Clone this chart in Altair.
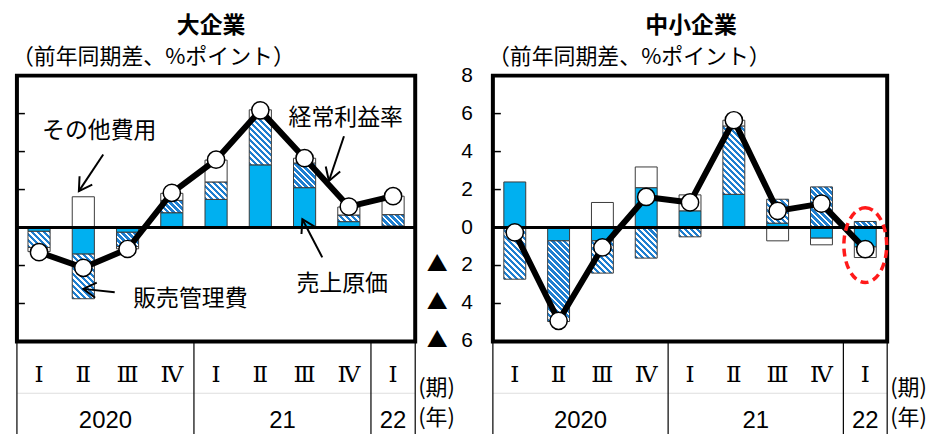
import math
import altair as alt
import pandas as pd

# ---- data -------------------------------------------------------------
quarters = ["Ⅰ", "Ⅱ", "Ⅲ", "Ⅳ", "Ⅰ", "Ⅱ", "Ⅲ", "Ⅳ", "Ⅰ"]
years = ["2020", "21", "22"]
year_first = [0, 4, 8]   # first quarter index of each year
year_last = [3, 7, 8]    # last quarter index of each year
y_ticks = [-6, -4, -2, 0, 2, 4, 6, 8]
y_tick_labels = ["▲ 6", "▲ 4", "▲ 2", "0", "2", "4", "6", "8"]

series_names = ["売上原価", "販売管理費", "その他費用", "経常利益率"]

# 大企業 (difference from the same period of the previous year, % points)
large_cogs = [-0.2, -1.4, -0.25, 0.78, 1.48, 3.3, 2.1, 0.31, 0.08]
large_sga = [-0.85, -2.35, -0.75, 0.65, 0.92, 2.43, 1.3, 0.35, 0.6]
large_other = [-0.22, 1.62, -0.12, 0.37, 1.15, 0.47, 0.25, 0.42, 0.97]
large_margin = [-1.3, -2.12, -1.13, 1.83, 3.57, 6.17, 3.65, 1.1, 1.65]

# 中小企業
small_cogs = [2.4, -0.7, -0.7, 2.1, 0.88, 1.75, 0.23, -0.56, -1.02]
small_sga = [-2.72, -4.25, -1.7, -1.61, -0.49, 3.6, 1.26, 2.14, 0.32]
small_other = [0.0, 0.0, 1.32, 1.09, 0.84, 0.3, -0.7, -0.35, -0.56]
small_margin = [-0.26, -4.91, -1.05, 1.61, 1.32, 5.65, 0.88, 1.26, -1.14]

# annotation labels and arrows (left panel, data coordinates)
ann_text = ["その他費用", "経常利益率", "売上原価", "販売管理費"]
ann_x = [1.36, 6.93, 6.85, 3.42]
ann_y = [5.07, 5.75, -2.95, -3.74]
arrow_x0 = [1.45, 6.89, 6.40, 1.71]
arrow_y0 = [3.85, 4.81, -1.57, -3.41]
arrow_x1 = [0.90, 6.55, 5.95, 1.00]
arrow_y1 = [1.92, 2.45, 0.44, -3.23]

# ---- style ------------------------------------------------------------
H = 267
BLUE = "#00b0f0"
STRIPE = "#1f7fd0"
OUTLINE = "#3a3a3a"
JP = "Noto Sans CJK JP"
NUM = "Liberation Sans, Noto Sans CJK JP"
ROMAN = "DejaVu Serif, Noto Sans CJK JP"
N = len(quarters)
HALF = 0.25  # half bar width in category units

ys = alt.Scale(domain=[-6, 8], nice=False, zero=False)
xs = alt.Scale(domain=[-0.5, N - 0.5], nice=False, zero=False)


def stack_segments(cogs, sga, other):
    rows = []
    for i in range(N):
        pos, neg = 0.0, 0.0
        for name, vals in zip(series_names[:3], (cogs, sga, other)):
            v = vals[i]
            if v == 0:
                continue
            if v > 0:
                lo, hi = pos, pos + v
                pos = hi
            else:
                lo, hi = neg + v, neg
                neg = lo
            rows.append(dict(i=i, series=name, v=v, lo=lo, hi=hi,
                             left=i - HALF, right=i + HALF))
    return pd.DataFrame(rows)


def hatch(w, h, period=6.0, ink=0.55):
    """Diagonal stripes of constant pixel spacing for a w x h box."""
    L = w + h
    a = L / (w * w + h * h)
    stops = []
    k = 0
    while k * period < L:
        s0 = k * period / L
        s1 = min((k * period + period * ink) / L, 1.0)
        s2 = min((k + 1) * period / L, 1.0)
        stops += [(s0, STRIPE), (s1, STRIPE), (s1, "white"), (s2, "white")]
        k += 1
    return alt.LinearGradient(
        gradient="linear",
        stops=[alt.GradientStop(color=c, offset=round(o, 5)) for o, c in stops],
        x1=0, y1=1, x2=round(a * w, 5), y2=round(1 - a * h, 5),
    )


def one_row():
    return pd.DataFrame({"k": [0]})


def text_at(txt, x, y, **kw):
    return alt.Chart(one_row()).mark_text(text=txt, color="black", **kw).encode(
        x=alt.value(x), y=alt.value(y))


def panel(W, title, title_x, title_y, sub_y, cogs, sga, other, margin,
          show_labels, extra_layers):
    seg = stack_segments(cogs, sga, other)
    bar_w = 2 * HALF * W / N
    px_per_unit = H / 14.0

    enc_bar = dict(
        x=alt.X("left:Q", scale=xs, axis=None), x2="right:Q",
        y=alt.Y("lo:Q", scale=ys, axis=None), y2="hi:Q",
    )
    layers = []

    # faint divider between quarter row and year row
    layers.append(alt.Chart(one_row()).mark_rule(color="#dedede", strokeWidth=1).encode(
        x=alt.value(0), x2=alt.value(W), y=alt.value(H + 52)))

    # vertical separators under the plot at year boundaries
    bounds = pd.DataFrame({"b": [-0.5] + [e + 0.5 for e in year_last]})
    layers.append(alt.Chart(bounds).mark_rule(color="black", strokeWidth=1.2).encode(
        x=alt.X("b:Q", scale=xs, axis=None), y=alt.value(H), y2=alt.value(H + 94)))

    # stacked cost components
    layers.append(alt.Chart(seg[seg.series == series_names[0]]).mark_bar(
        fill=BLUE, stroke=OUTLINE, strokeWidth=1).encode(**enc_bar))
    for _, r in seg[seg.series == series_names[1]].iterrows():
        grad = hatch(bar_w, abs(r.v) * px_per_unit)
        layers.append(alt.Chart(pd.DataFrame([r.to_dict()])).mark_bar(
            fill=grad, stroke=OUTLINE, strokeWidth=1).encode(**enc_bar))
    layers.append(alt.Chart(seg[seg.series == series_names[2]]).mark_bar(
        fill="white", stroke=OUTLINE, strokeWidth=1).encode(**enc_bar))

    # zero line
    layers.append(alt.Chart(pd.DataFrame({"z": [0]})).mark_rule(
        color="black", strokeWidth=3).encode(
        x=alt.value(0), x2=alt.value(W), y=alt.Y("z:Q", scale=ys, axis=None)))

    # inner ticks
    tdf = pd.DataFrame({
        "t": y_ticks,
        "num": [s.split()[-1] for s in y_tick_labels],
        "mark": [s.split()[0] if len(s.split()) > 1 else "" for s in y_tick_labels],
    })
    layers.append(alt.Chart(tdf).mark_rule(color="black", strokeWidth=1.5).encode(
        y=alt.Y("t:Q", scale=ys, axis=None), x=alt.value(0), x2=alt.value(8)))
    if show_labels:
        layers.append(alt.Chart(tdf).mark_text(
            font="Liberation Sans", fontSize=21, color="black", align="right",
            baseline="middle").encode(
            y=alt.Y("t:Q", scale=ys, axis=None), x=alt.value(-20), text="num:N"))
        layers.append(alt.Chart(tdf).mark_text(
            font=JP, fontSize=21, color="black", align="center",
            baseline="middle").encode(
            y=alt.Y("t:Q", scale=ys, axis=None), x=alt.value(-56), text="mark:N"))

    # operating profit margin
    mdf = pd.DataFrame({"i": list(range(N)), "m": margin})
    layers.append(alt.Chart(mdf).mark_line(color="black", strokeWidth=6, strokeJoin="round").encode(
        x=alt.X("i:Q", scale=xs, axis=None), y=alt.Y("m:Q", scale=ys, axis=None)))
    layers.append(alt.Chart(mdf).mark_point(
        filled=True, fill="white", stroke="black", strokeWidth=1.5, size=300, opacity=1).encode(
        x=alt.X("i:Q", scale=xs, axis=None), y=alt.Y("m:Q", scale=ys, axis=None)))

    # category labels below the plot
    qdf = pd.DataFrame({"i": list(range(N)), "q": quarters})
    layers.append(alt.Chart(qdf).mark_text(font=ROMAN, fontSize=23, color="black",
                                           baseline="middle").encode(
        x=alt.X("i:Q", scale=xs, axis=None), y=alt.value(H + 34), text="q:N"))
    ydf = pd.DataFrame({"c": [(a + b) / 2 for a, b in zip(year_first, year_last)], "y": years})
    layers.append(alt.Chart(ydf).mark_text(font=NUM, fontSize=24, color="black",
                                           baseline="middle").encode(
        x=alt.X("c:Q", scale=xs, axis=None), y=alt.value(H + 80), text="y:N"))

    # unit labels at the right end of the table
    layers.append(text_at("(期)", W + 3, H + 47, font=JP, fontSize=22,
                          align="left", baseline="middle"))
    layers.append(text_at("(年)", W + 3, H + 77, font=JP, fontSize=22,
                          align="left", baseline="middle"))

    # titles
    layers.append(text_at(title, title_x, title_y, font=JP, fontSize=23,
                          fontWeight="bold", align="center", baseline="middle"))
    layers.append(text_at("（前年同期差、%ポイント）", -5, sub_y, font=JP, fontSize=22,
                          align="left", baseline="middle"))

    layers += extra_layers(W)
    return alt.layer(*layers).properties(width=W, height=H)


def large_extras(W):
    out = []
    # overall canvas extent
    out.append(alt.Chart(one_row()).mark_rect(opacity=0).encode(
        x=alt.value(-15), x2=alt.value(914), y=alt.value(-73), y2=alt.value(361)))
    ux = W / N
    uy = H / 14.0
    angles = []
    for x0, y0, x1, y1 in zip(arrow_x0, arrow_y0, arrow_x1, arrow_y1):
        dx = (x1 - x0) * ux
        dy = -(y1 - y0) * uy
        angles.append(round(math.degrees(math.atan2(dx, -dy)) % 360, 2))
    adf = pd.DataFrame({"x0": arrow_x0, "y0": arrow_y0, "x1": arrow_x1,
                        "y1": arrow_y1, "ang": angles})
    out.append(alt.Chart(adf).mark_rule(color="black", strokeWidth=2).encode(
        x=alt.X("x0:Q", scale=xs, axis=None), x2="x1:Q",
        y=alt.Y("y0:Q", scale=ys, axis=None), y2="y1:Q"))
    out.append(alt.Chart(adf).mark_point(
        shape="M -0.6 1 L 0 0 L 0.6 1", filled=False, stroke="black",
        strokeWidth=2, size=650, opacity=1).encode(
        x=alt.X("x1:Q", scale=xs, axis=None), y=alt.Y("y1:Q", scale=ys, axis=None),
        angle=alt.Angle("ang:Q", scale=None)))
    tdf = pd.DataFrame({"t": ann_text, "x": ann_x, "y": ann_y})
    out.append(alt.Chart(tdf).mark_text(font=JP, fontSize=23, color="black",
                                        baseline="middle").encode(
        x=alt.X("x:Q", scale=xs, axis=None), y=alt.Y("y:Q", scale=ys, axis=None), text="t:N"))
    return out


def small_extras(W):
    k = 0.5523
    a = 0.573
    ellipse = (f"M 0 -1 C {k*a:.3f} -1 {a} {-k} {a} 0 C {a} {k} {k*a:.3f} 1 0 1 "
               f"C {-k*a:.3f} 1 {-a} {k} {-a} 0 C {-a} {-k} {-k*a:.3f} -1 0 -1 Z")
    edf = pd.DataFrame({"i": [N - 1], "m": [small_margin[-1]]})
    return [alt.Chart(edf).mark_point(
        shape=ellipse, filled=False, stroke="#ff1a1a", strokeWidth=3.5,
        strokeDash=[8, 5], size=5625, opacity=1, yOffset=-4).encode(
        x=alt.X("i:Q", scale=xs, axis=None), y=alt.Y("m:Q", scale=ys, axis=None))]


left = panel(400, "大企業", 195, -50, -19, large_cogs, large_sga, large_other,
             large_margin, False, large_extras)
right = panel(396, "中小企業", 199, -50, -19, small_cogs, small_sga, small_other,
              small_margin, True, small_extras)

chart = alt.hconcat(left, right, spacing=78, bounds="flush").configure(
    padding=0, background="white"
).configure_view(stroke="black", strokeWidth=4)

chart.save("out.html", embed_options={"renderer": "svg", "actions": False})
